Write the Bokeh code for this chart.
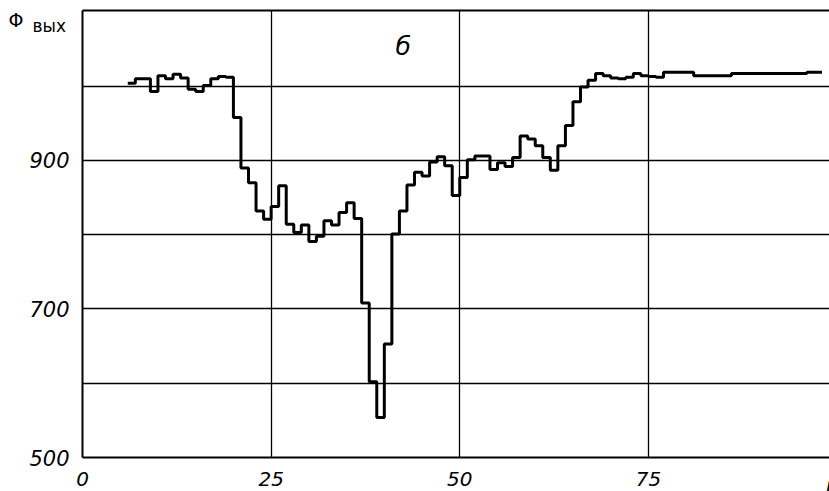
from bokeh.plotting import figure
from bokeh.models import FixedTicker, LinearAxis, Label, Range1d
from bokeh.embed import file_html
from bokeh.resources import INLINE

# Data
step_n = list(range(6, 99))
phi_out = [
    1004, 1010, 1010, 993, 1014, 1010, 1016, 1011, 996, 993,
    1001, 1010, 1013, 1012, 958, 890, 870, 832, 821, 838,
    866, 814, 803, 813, 791, 798, 819, 813, 830, 843,
    822, 708, 602, 554, 653, 801, 832, 867, 884, 879,
    898, 905, 893, 853, 877, 901, 906, 906, 888, 897,
    892, 904, 933, 929, 920, 904, 887, 920, 947, 979,
    999, 1008, 1017, 1014, 1011, 1010, 1012, 1017, 1014, 1013,
    1012, 1019, 1019, 1019, 1019, 1014, 1014, 1014, 1014, 1014,
    1017, 1017, 1017, 1017, 1017, 1017, 1017, 1017, 1017, 1017,
    1019, 1019, 1019,
]
x_ticks = [0, 25, 50, 75]
y_ticks = [500, 600, 700, 800, 900, 1000]
y_tick_labels = {500: "500", 600: "", 700: "700", 800: "", 900: "900", 1000: ""}

FONT = "DejaVu Sans"

p = figure(width=829, height=491, output_backend="svg", toolbar_location=None,
           x_range=Range1d(0, 99), y_range=Range1d(500, 1102),
           min_border_left=82, min_border_right=0, min_border_top=10,
           min_border_bottom=34)
p.outline_line_color = None
p.background_fill_color = "white"
p.border_fill_color = "white"

# axes
p.xaxis.ticker = FixedTicker(ticks=x_ticks)
p.yaxis.ticker = FixedTicker(ticks=y_ticks)
p.yaxis.major_label_overrides = y_tick_labels
for ax in (p.xaxis, p.yaxis):
    ax.major_tick_line_color = None
    ax.minor_tick_line_color = None
    ax.axis_line_width = 2
    ax.axis_line_color = "black"
    ax.major_label_text_font = FONT
    ax.major_label_text_font_style = "italic"
    ax.major_label_text_font_size = "21px"
    ax.major_label_text_color = "black"
p.xaxis.major_label_text_font_size = "20px"
p.xaxis.major_label_standoff = 8
p.yaxis.major_label_standoff = 7
# blank axis label with negative standoff: leaves room in the left border
p.yaxis.axis_label = " "
p.yaxis.axis_label_text_font_size = "10px"
p.yaxis.axis_label_standoff = -60

top = LinearAxis(ticker=FixedTicker(ticks=[50]), major_tick_line_color=None,
                 minor_tick_line_color=None, major_label_text_font_size="0px",
                 major_label_text_alpha=0, axis_line_width=2,
                 axis_line_color="black", major_label_standoff=0)
p.add_layout(top, "above")

# grid
p.xgrid.ticker = FixedTicker(ticks=[25, 50, 75])
p.ygrid.ticker = FixedTicker(ticks=[600, 700, 800, 900, 1000])
for g in (p.xgrid, p.ygrid):
    g.grid_line_color = "black"
    g.grid_line_width = 1.3
    g.grid_line_alpha = 1.0

# step line
p.step(x=step_n, y=phi_out, mode="after", line_width=3, line_color="black")

# texts outside the frame (canvas units, origin at the top-left corner)
p.add_layout(Label(x=8, y=19, x_units="canvas", y_units="canvas", text="Φ",
                   text_font=FONT, text_font_size="19px", text_color="black",
                   text_baseline="alphabetic", text_align="left"), "left")
p.add_layout(Label(x=32, y=25, x_units="canvas", y_units="canvas", text="вых",
                   text_font=FONT, text_font_size="17px", text_color="black",
                   text_baseline="alphabetic", text_align="left"), "left")
p.add_layout(Label(x=825, y=487, x_units="canvas", y_units="canvas", text="N",
                   text_font=FONT, text_font_style="italic", text_font_size="20px",
                   text_color="black", text_baseline="alphabetic", text_align="left"),
             "left")
# text inside the frame
p.add_layout(Label(x=42.5, y=1053, text="б", text_font=FONT,
                   text_font_style="italic", text_font_size="25px",
                   text_color="black", text_baseline="alphabetic",
                   text_align="center"))

open("out.html", "w").write(file_html(p, INLINE))
